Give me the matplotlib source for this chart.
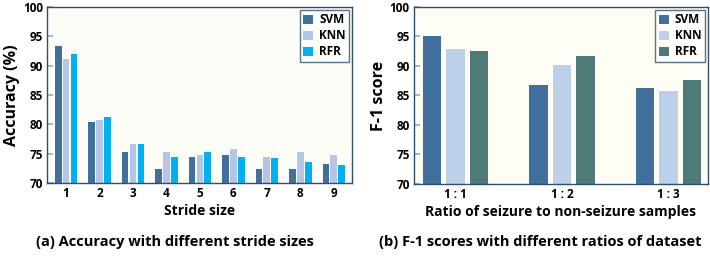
import matplotlib
matplotlib.use("Agg")
import matplotlib.pyplot as plt
import numpy as np

plt.rcParams['font.family'] = ['Open Sans', 'DejaVu Sans']
plt.rcParams['font.weight'] = 'bold'

# Data
strides = ['1', '2', '3', '4', '5', '6', '7', '8', '9']
acc_svm = [93.3, 80.4, 75.2, 72.3, 74.5, 74.8, 72.4, 72.4, 73.3]
acc_knn = [91.1, 80.8, 76.7, 75.2, 74.8, 75.8, 74.5, 75.2, 74.8]
acc_rfr = [92.0, 81.3, 76.7, 74.5, 75.3, 74.5, 74.3, 73.5, 73.1]

ratios = ['1 : 1', '1 : 2', '1 : 3']
f1_svm = [95.0, 86.75, 86.2]
f1_knn = [92.8, 90.1, 85.7]
f1_rfr = [92.5, 91.65, 87.6]

yticks = [70, 75, 80, 85, 90, 95, 100]
series = ['SVM', 'KNN', 'RFR']

spine_c = '#2F4F6F'
tick_c = '#8FAAC8'

fig = plt.figure(figsize=(7.10, 2.58), dpi=100)
axL = fig.add_axes([0.0662, 0.291, 0.4298, 0.682])
axR = fig.add_axes([0.583, 0.287, 0.414, 0.686])

def style(ax, bg):
    ax.set_facecolor(bg)
    for s in ax.spines.values():
        s.set_color(spine_c)
        s.set_linewidth(1.0)
    ax.set_ylim(70, 100)
    ax.set_yticks(yticks)
    ax.tick_params(axis='y', direction='in', length=4, color=tick_c, width=1.2,
                   labelsize=8.5, pad=3)
    ax.tick_params(axis='x', length=0, labelsize=8.5, pad=3)
    for lbl in ax.get_yticklabels() + ax.get_xticklabels():
        lbl.set_fontweight('bold')

# Left
x = np.arange(1, len(strides) + 1)
w = 0.2
p = 0.235
colsL = ['#41709C', '#B4C5E6', '#00B0F0']
for i, (vals, c) in enumerate(zip([acc_svm, acc_knn, acc_rfr], colsL)):
    axL.bar(x + (i - 1) * p, np.array(vals) - 70, w, bottom=70, color=c, label=series[i])
axL.set_xlim(0.43, 9.55)
axL.set_xticks(x)
axL.set_xticklabels(strides)
style(axL, '#FDFDF8')
axL.set_ylabel('Accuracy (%)', fontsize=11.5, fontweight='bold', labelpad=2)
axL.set_xlabel('Stride size', fontsize=10, fontweight='bold', labelpad=3)
legL = axL.legend(loc='upper right', fontsize=8.5, frameon=True, fancybox=False,
                  handlelength=0.85, handleheight=0.85, handletextpad=0.5,
                  labelspacing=0.25, borderpad=0.3, borderaxespad=0.25)
legL.get_frame().set_edgecolor(spine_c)
legL.get_frame().set_linewidth(1.0)
for t in legL.get_texts():
    t.set_fontweight('bold')

# Right
xr = np.arange(len(ratios))
wr = 0.175
pr = 0.22
colsR = ['#41709C', '#BDD0EA', '#4E7A78']
for i, (vals, c) in enumerate(zip([f1_svm, f1_knn, f1_rfr], colsR)):
    axR.bar(xr + (i - 1) * pr, np.array(vals) - 70, wr, bottom=70, color=c, label=series[i])
axR.set_xlim(-0.39, 2.37)
axR.set_xticks(xr)
axR.set_xticklabels(ratios)
style(axR, '#FFFEF4')
axR.set_ylabel('F-1 score', fontsize=11.5, fontweight='bold', labelpad=2)
axR.set_xlabel('Ratio of seizure to non-seizure samples', fontsize=10, fontweight='bold', labelpad=3)
legR = axR.legend(loc='upper right', fontsize=8.5, frameon=True, fancybox=False,
                  handlelength=0.85, handleheight=0.85, handletextpad=0.5,
                  labelspacing=0.25, borderpad=0.3, borderaxespad=0.25)
legR.get_frame().set_edgecolor(spine_c)
legR.get_frame().set_linewidth(1.0)
for t in legR.get_texts():
    t.set_fontweight('bold')

fig.text(175 / 710, 1 - 242 / 258, '(a) Accuracy with different stride sizes',
         ha='center', va='center', fontsize=10.5, fontweight='bold')
fig.text(540 / 710, 1 - 242 / 258, '(b) F-1 scores with different ratios of dataset',
         ha='center', va='center', fontsize=10.5, fontweight='bold')

fig.savefig('out.png', dpi=100)
